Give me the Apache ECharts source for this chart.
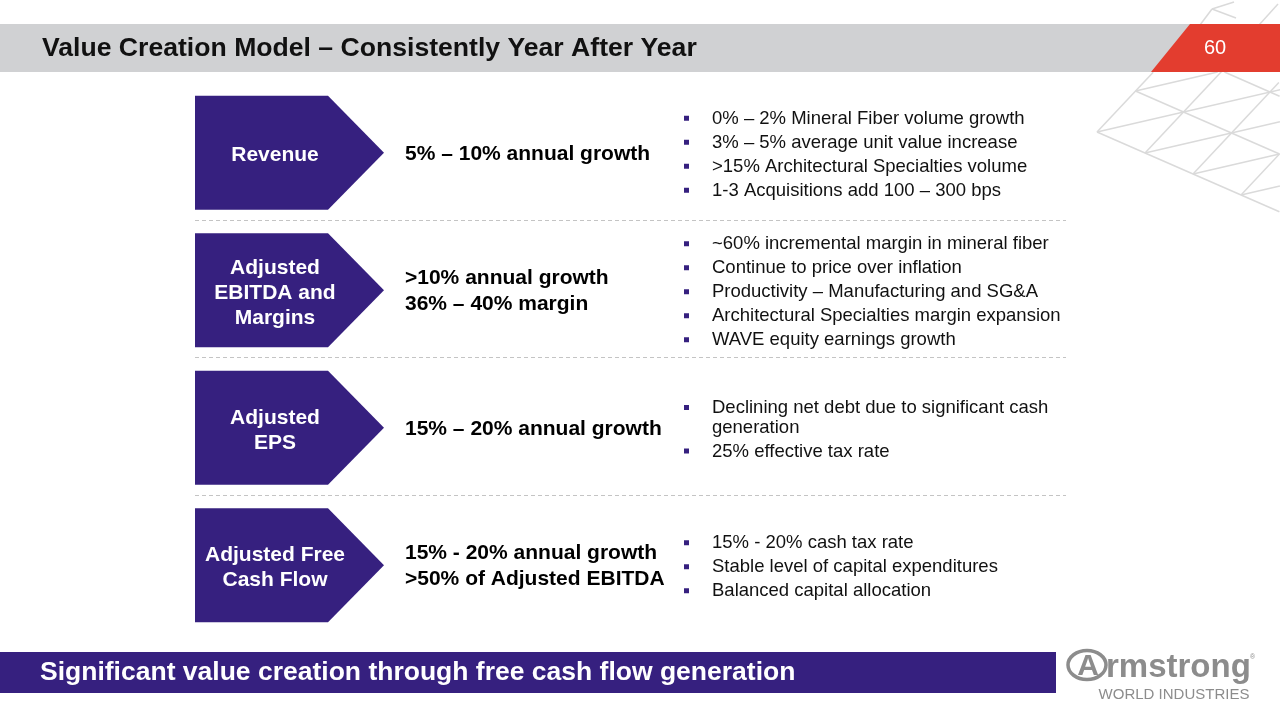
<!DOCTYPE html>
<html><head><meta charset="utf-8">
<script src="https://cdn.jsdelivr.net/npm/echarts@6/dist/echarts.min.js"></script>
<style>html,body{margin:0;padding:0;background:#fff;overflow:hidden}#c{width:1280px;height:720px}</style>
</head><body><div id="c"></div>
<script>
// ---- content ----
const title = 'Value Creation Model – Consistently Year After Year';
const pageNumber = '60';
const categories = ['Revenue', 'Adjusted\nEBITDA and\nMargins', 'Adjusted\nEPS', 'Adjusted Free\nCash Flow'];
const targets = [
  ['5% – 10% annual growth'],
  ['>10% annual growth', '36% – 40% margin'],
  ['15% – 20% annual growth'],
  ['15% - 20% annual growth', '>50% of Adjusted EBITDA']
];
const drivers = [
  ['0% – 2% Mineral Fiber volume growth', '3% – 5% average unit value increase', '>15% Architectural Specialties volume', '1-3 Acquisitions add 100 – 300 bps'],
  ['~60% incremental margin in mineral fiber', 'Continue to price over inflation', 'Productivity – Manufacturing and SG&A', 'Architectural Specialties margin expansion', 'WAVE equity earnings growth'],
  ['Declining net debt due to significant cash\ngeneration', '25% effective tax rate'],
  ['15% - 20% cash tax rate', 'Stable level of capital expenditures', 'Balanced capital allocation']
];
const tagline = 'Significant value creation through free cash flow generation';
const logoWord = 'rmstrong';
const logoSub = 'WORLD INDUSTRIES';

// ---- styles ----
const PURPLE = '#36207F';
const RED = '#E33D2F';
const GRAY_BAR = '#D0D1D3';
const FONT = '"Liberation Sans", Arial, sans-serif';
const LOGO_GRAY = '#8C8C8C';

const chart = echarts.init(document.getElementById('c'), null, {renderer: 'canvas'});

function renderRow(params, api) {
  const idx = api.value(1);
  const cy = api.coord([0, idx])[1];
  const band = api.size([0, 1])[1];
  const h = band * 0.83;
  const top = cy - h / 2;
  const L = 195, R = 328, T = 384;
  const children = [];
  children.push({type: 'polygon', shape: {points: [[L, top], [R, top], [T, cy], [R, top + h], [L, top + h]]}, style: {fill: PURPLE}});
  children.push({type: 'text', style: {text: categories[idx], x: 275, y: cy + 2.5, fill: '#fff',
    font: 'bold 21px ' + FONT, align: 'center', verticalAlign: 'middle', textAlign: 'center', textVerticalAlign: 'middle', lineHeight: 25}});
  children.push({type: 'text', style: {text: targets[idx].join('\n'), x: 405, y: cy + 1, fill: '#000',
    font: 'bold 21px ' + FONT, align: 'left', verticalAlign: 'middle', textAlign: 'left', textVerticalAlign: 'middle', lineHeight: 26}});
  // bullets
  const items = drivers[idx];
  const lines = [];
  let off = 0;
  items.forEach((it, k) => {
    if (k > 0) off += 24;
    it.split('\n').forEach((ln, j) => {
      if (j > 0) off += 19.5;
      lines.push({text: ln, y: off, bullet: j === 0});
    });
  });
  const start = cy - off / 2 + 1.5;
  lines.forEach(l => {
    const y = start + l.y;
    if (l.bullet) {
      children.push({type: 'rect', shape: {x: 684, y: y - 2.5, width: 5, height: 5}, style: {fill: PURPLE}});
    }
    children.push({type: 'text', style: {text: l.text, x: 712, y: y + 0.5, fill: '#111',
      font: '18.5px ' + FONT, align: 'left', verticalAlign: 'middle', textAlign: 'left', textVerticalAlign: 'middle'}});
  });
  if (idx < categories.length - 1) {
    const sy = Math.round(cy + band / 2) - 1.5;
    children.push({type: 'line', shape: {x1: 195, y1: sy, x2: 1066, y2: sy}, style: {stroke: '#C4C4C4', lineWidth: 1, lineDash: [4, 3]}});
  }
  return {type: 'group', children: children};
}

// decorative lattice (background art)
const P1 = [1097, 132], A = [38.5, -41], B = [48, 21];
function Lp(i, j) { return [P1[0] + i * A[0] + j * B[0], P1[1] + i * A[1] + j * B[1]]; }
const latticeSegs = [
  [Lp(0, 0), Lp(1.46, 0)], [Lp(0, 1), Lp(2.0, 1)], [Lp(0, 2), Lp(2.23, 2)], [Lp(0, 3), Lp(1.0, 3)],
  [Lp(0, 0), Lp(0, 3.8)], [Lp(1, 0), Lp(1, 3.0)], [Lp(2, 1.05), Lp(2, 2.2)],
  [Lp(0, 0), Lp(2.12, 2.12)], [Lp(0, 1), Lp(1.56, 2.56)], [Lp(0, 2), Lp(1.0, 3.0)], [Lp(0, 3), Lp(0.45, 3.45)],
  [Lp(1, 0), Lp(1.95, 0.95)],
  [[1200, 25], [1212, 9]], [[1212, 9], [1234, 2]], [[1212, 9], [1236, 18]], [[1259, 25], [1278, 4]]
];
const graphics = [];
latticeSegs.forEach(s => graphics.push({type: 'line', z: 0, shape: {x1: s[0][0], y1: s[0][1], x2: s[1][0], y2: s[1][1]}, style: {stroke: '#DADADA', lineWidth: 1.5}}));
graphics.push(
  {type: 'rect', z: 1, shape: {x: 0, y: 24, width: 1192, height: 48}, style: {fill: GRAY_BAR}},
  {type: 'polygon', z: 2, shape: {points: [[1190, 24], [1280, 24], [1280, 72], [1151, 72]]}, style: {fill: RED}},
  {type: 'text', z: 3, style: {text: title, x: 42, y: 48.5, fill: '#111', font: 'bold 26.6px ' + FONT, textAlign: 'left', textVerticalAlign: 'middle'}},
  {type: 'text', z: 3, style: {text: pageNumber, x: 1215, y: 48, fill: '#fff', font: '20px ' + FONT, textAlign: 'center', textVerticalAlign: 'middle'}},
  {type: 'rect', z: 1, shape: {x: 0, y: 652, width: 1056, height: 41}, style: {fill: PURPLE}},
  {type: 'text', z: 3, style: {text: tagline, x: 40, y: 672.5, fill: '#fff', font: 'bold 26.5px ' + FONT, textAlign: 'left', textVerticalAlign: 'middle'}},
  {type: 'ellipse', z: 3, shape: {cx: 1087, cy: 665, rx: 19, ry: 14.5}, style: {fill: 'none', stroke: LOGO_GRAY, lineWidth: 3.5}},
  {type: 'text', z: 3, style: {text: 'A', x: 1088, y: 667, fill: LOGO_GRAY, font: 'bold 30px ' + FONT, textAlign: 'center', textVerticalAlign: 'middle'}},
  {type: 'text', z: 3, style: {text: logoWord, x: 1106, y: 668, fill: LOGO_GRAY, font: 'bold 33px ' + FONT, textAlign: 'left', textVerticalAlign: 'middle'}},
  {type: 'text', z: 3, style: {text: '®', x: 1250, y: 657, fill: LOGO_GRAY, font: '7px ' + FONT, textAlign: 'left', textVerticalAlign: 'middle'}},
  {type: 'text', z: 3, style: {text: logoSub, x: 1174, y: 695, fill: LOGO_GRAY, font: '15px ' + FONT, textAlign: 'center', textVerticalAlign: 'middle'}}
);

chart.setOption({
  animation: false,
  backgroundColor: '#fff',
  grid: {left: 0, right: 0, top: 84, bottom: 86},
  xAxis: {type: 'value', min: 0, max: 1280, show: false},
  yAxis: {type: 'category', data: categories, inverse: true, show: false},
  graphic: graphics,
  series: [{
    type: 'custom',
    renderItem: renderRow,
    clip: false,
    data: categories.map((c, i) => [0, i])
  }]
});
</script>
</body></html>
